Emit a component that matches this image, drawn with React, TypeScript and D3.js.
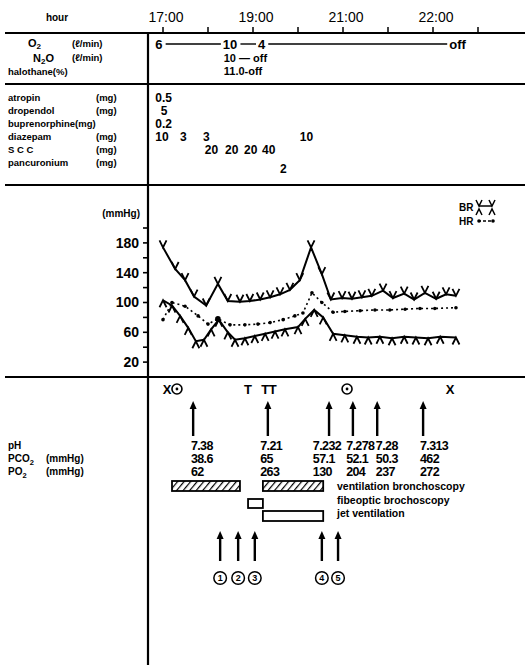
import React from 'react';
import * as d3 from 'd3';

const W = 525;
const H = 665;

// time axis, in tick units (one unit per tick mark)
const hourTicks = d3.range(0, 8);
const hourLabelTicks = [0, 2, 4, 6];
const hourLabels = ['17:00', '19:00', '21:00', '22:00'];

// gases
const o2Times = [-0.17, 1.33, 2.11, 6.36];
const o2Values = ['6', '10', '4', 'off'];
const n2oTimes = [1.35];
const n2oValues = ['10 — off'];
const halothaneTimes = [1.35];
const halothaneValues = ['11.0-off'];

// drugs (mg)
const drugNames = ['atropin', 'dropendol', 'buprenorphine(mg)', 'diazepam', 'S C C', 'pancuronium'];
const drugUnits = ['(mg)', '(mg)', '', '(mg)', '(mg)', '(mg)'];
const drugTimes = [[-0.17], [-0.05], [-0.17], [-0.17, 0.38, 0.89, 3.04], [0.93, 1.38, 1.8, 2.2], [2.6]];
const drugDoses = [['0.5'], ['5'], ['0.2'], ['10', '3', '3', '10'], ['20', '20', '20', '40'], ['2']];

// blood pressure / heart rate (mmHg)
const sbpTimes = [0, 0.27, 0.49, 0.69, 0.96, 1.22, 1.44, 1.71, 1.93, 2.16, 2.38, 2.6, 2.82, 3.04, 3.29, 3.53, 3.73, 3.98, 4.2, 4.42, 4.64, 4.89, 5.11, 5.36, 5.58, 5.82, 6.07, 6.29, 6.51];
const sbpValues = [174, 145, 130, 108, 96, 125, 102, 101, 102, 104, 107, 111, 117, 130, 174, 138, 104, 106, 105, 107, 109, 116, 106, 112, 104, 113, 105, 111, 109];
const hrTimes = [0, 0.2, 0.49, 0.78, 1.0, 1.22, 1.49, 1.82, 2.11, 2.38, 2.67, 2.93, 3.11, 3.31, 3.53, 3.78, 4.04, 4.38, 4.71, 5.04, 5.38, 5.71, 6.04, 6.51];
const hrValues = [77, 100, 95, 82, 71, 78, 70, 70, 71, 73, 77, 82, 86, 113, 100, 87, 88, 89, 90, 90, 91, 92, 92, 93];
const dbpTimes = [0, 0.2, 0.38, 0.56, 0.73, 0.91, 1.07, 1.24, 1.44, 1.6, 1.82, 2.04, 2.27, 2.49, 2.71, 3.0, 3.16, 3.36, 3.56, 3.78, 4.04, 4.31, 4.56, 4.82, 5.09, 5.36, 5.62, 5.89, 6.16, 6.51];
const dbpValues = [103, 96, 82, 66, 48, 50, 64, 77, 60, 50, 52, 55, 58, 61, 64, 67, 78, 90, 80, 58, 56, 54, 53, 54, 52, 54, 53, 52, 54, 53];
const bpTicks = d3.range(20, 201, 20);
const bpLabels = [20, 60, 100, 140, 180];

// blood gases
const xMarkTimes = [0.09, 6.38];
const dotMarkTimes = [0.31, 4.09];
const tMarkTimes = [1.89, 2.27, 2.44];
const gasArrowTimes = [0.67, 2.33, 3.69, 4.22, 4.76, 5.78];
const gasLabelTimes = [0.62, 2.16, 3.33, 4.07, 4.73, 5.71];
const phValues = ['7.38', '7.21', '7.232', '7.278', '7.28', '7.313'];
const pco2Values = ['38.6', '65', '57.1', '52.1', '50.3', '462'];
const po2Values = ['62', '263', '130', '204', '237', '272'];

// procedures
const ventBronchoRanges = [[0.2, 1.71], [2.22, 3.56]];
const fiberBronchoRanges = [[1.89, 2.22]];
const jetVentRanges = [[2.22, 3.56]];
const procedureNames = ['ventilation bronchoscopy', 'fibeoptic brochoscopy', 'jet ventilation'];
const eventTimes = [1.27, 1.67, 2.04, 3.53, 3.89];
const eventNumbers = ['1', '2', '3', '4', '5'];

const FONT = "'Liberation Sans', Arial, sans-serif";

const x = d3.scaleLinear().domain([0, 7]).range([163, 478]);
const y = d3.scaleLinear().domain([0, 200]).range([377, 228]);

const DIVX = 148;

const UpArrow = ({ cx, y1, y2 }: { cx: number; y1: number; y2: number }) => (
  <g>
    <line x1={cx} x2={cx} y1={y2} y2={y1 + 6} stroke="#000" strokeWidth={2.4} />
    <path d={`M${cx - 3.5},${y1 + 8} L${cx},${y1} L${cx + 3.5},${y1 + 8} Z`} fill="#000" />
  </g>
);

export default function App() {
  const line = d3.line<[number, number]>().x(d => x(d[0])).y(d => y(d[1]));
  const sbp = sbpTimes.map((t, i) => [t, sbpValues[i]] as [number, number]);
  const dbp = dbpTimes.map((t, i) => [t, dbpValues[i]] as [number, number]);
  const hr = hrTimes.map((t, i) => [t, hrValues[i]] as [number, number]);

  const o2Widths = o2Values.map(v => v.length * 7.3);
  const drugRowY = (i: number) => 101 + i * 12.9;

  const gasRow = (vals: string[], yy: number) =>
    vals.map((v, i) => (
      <text key={i} x={x(gasLabelTimes[i])} y={yy} fontSize={12.5} fontWeight="bold" letterSpacing={-0.6}>{v}</text>
    ));

  return (
    <div style={{ position: 'absolute', left: 0, top: 0, background: '#fff' }}>
      <svg width={W} height={H} fontFamily={FONT} style={{ display: 'block' }}>
        <defs>
          <pattern id="hatch" patternUnits="userSpaceOnUse" width={5} height={5} patternTransform="rotate(40)">
            <line x1={0} y1={0} x2={0} y2={5} stroke="#000" strokeWidth={2.4} />
          </pattern>
        </defs>
        <rect width={W} height={H} fill="#fff" />

        {/* frame */}
        {[33, 84, 185, 377].map(yy => (
          <line key={yy} x1={5} x2={W} y1={yy} y2={yy} stroke="#000" strokeWidth={2} />
        ))}
        <line x1={DIVX} x2={DIVX} y1={33} y2={H} stroke="#000" strokeWidth={2.2} />

        {/* hour axis */}
        <text x={57} y={21} fontSize={10} fontWeight="bold" textAnchor="middle">hour</text>
        {hourTicks.map(t => (
          <line key={t} x1={x(t)} x2={x(t)} y1={33} y2={27} stroke="#000" strokeWidth={1.5} />
        ))}
        {hourLabelTicks.map((t, i) => (
          <text key={t} x={x(t) + 3} y={22} fontSize={14} textAnchor="middle">{hourLabels[i]}</text>
        ))}

        {/* gases */}
        <text x={28} y={47} fontSize={11} fontWeight="bold">O<tspan dy={2} fontSize={8}>2</tspan></text>
        <text x={72} y={47} fontSize={9.5} fontWeight="bold">(ℓ/min)</text>
        <text x={33} y={62} fontSize={11} fontWeight="bold">N<tspan dy={2} fontSize={8}>2</tspan><tspan dy={-2}>O</tspan></text>
        <text x={72} y={61} fontSize={9.5} fontWeight="bold">(ℓ/min)</text>
        <text x={8} y={75} fontSize={9.5} fontWeight="bold">halothane(%)</text>
        {o2Values.map((v, i) => (
          <text key={i} x={x(o2Times[i])} y={49} fontSize={13} fontWeight="bold">{v}</text>
        ))}
        {o2Times.slice(0, -1).map((t, i) => (
          <line key={i} x1={x(t) + o2Widths[i] + 3} x2={x(o2Times[i + 1]) - 2} y1={44} y2={44} stroke="#000" strokeWidth={1.4} />
        ))}
        {n2oValues.map((v, i) => (
          <text key={i} x={x(n2oTimes[i])} y={62} fontSize={11} fontWeight="bold">{v}</text>
        ))}
        {halothaneValues.map((v, i) => (
          <text key={i} x={x(halothaneTimes[i])} y={75} fontSize={11} fontWeight="bold">{v}</text>
        ))}

        {/* drugs */}
        {drugNames.map((name, i) => (
          <g key={name}>
            <text x={8} y={drugRowY(i)} fontSize={9.5} fontWeight="bold">{name}</text>
            <text x={96} y={drugRowY(i)} fontSize={9.5} fontWeight="bold">{drugUnits[i]}</text>
            {drugDoses[i].map((d, j) => (
              <text key={j} x={x(drugTimes[i][j])} y={drugRowY(i) + (i === 5 ? 7 : 1)} fontSize={12} fontWeight="bold">{d}</text>
            ))}
          </g>
        ))}

        {/* BP / HR chart */}
        <text x={140} y={217} fontSize={10} fontWeight="bold" textAnchor="end">(mmHg)</text>
        {bpTicks.map(v => (
          <line key={v} x1={DIVX - 5} x2={DIVX} y1={y(v)} y2={y(v)} stroke="#000" strokeWidth={1.6} />
        ))}
        {bpLabels.map(v => (
          <text key={v} x={139} y={y(v)} dy="0.35em" fontSize={14} fontWeight="bold" textAnchor="end">{v}</text>
        ))}

        <path d={line(sbp) || ''} fill="none" stroke="#000" strokeWidth={2} />
        {sbp.map((d, i) => (
          <path key={i} d={`M${x(d[0]) - 3.5},${y(d[1]) - 7} L${x(d[0])},${y(d[1])} L${x(d[0]) + 3.5},${y(d[1]) - 7}`} fill="none" stroke="#000" strokeWidth={1.8} />
        ))}
        <path d={line(dbp) || ''} fill="none" stroke="#000" strokeWidth={2} />
        {dbp.map((d, i) => (
          <path key={i} d={`M${x(d[0]) - 3.5},${y(d[1]) + 7} L${x(d[0])},${y(d[1])} L${x(d[0]) + 3.5},${y(d[1]) + 7}`} fill="none" stroke="#000" strokeWidth={1.8} />
        ))}
        <path d={line(hr) || ''} fill="none" stroke="#000" strokeWidth={1.6} strokeDasharray="2,3" />
        {hr.map((d, i) => (
          <circle key={i} cx={x(d[0])} cy={y(d[1])} r={i === 5 ? 2.8 : 1.8} fill="#000" />
        ))}

        {/* legend */}
        <text x={459} y={211} fontSize={10} fontWeight="bold">BR</text>
        <line x1={479} x2={492} y1={206} y2={206} stroke="#000" strokeWidth={1.5} />
        {[479, 492].map(cx => (
          <g key={cx}>
            <path d={`M${cx - 3},${200} L${cx},${206} L${cx + 3},${200}`} fill="none" stroke="#000" strokeWidth={1.5} />
            <path d={`M${cx - 3},${215} L${cx},${209} L${cx + 3},${215}`} fill="none" stroke="#000" strokeWidth={1.5} />
          </g>
        ))}
        <text x={459} y={225} fontSize={10} fontWeight="bold">HR</text>
        <line x1={478} x2={493} y1={221} y2={221} stroke="#000" strokeWidth={1.4} strokeDasharray="3,2" />
        {[479, 493].map(cx => <circle key={cx} cx={cx} cy={221} r={1.8} fill="#000" />)}

        {/* blood gas events */}
        {xMarkTimes.map(t => (
          <text key={t} x={x(t)} y={394} fontSize={13} fontWeight="bold" textAnchor="middle">X</text>
        ))}
        {dotMarkTimes.map(t => (
          <g key={t}>
            <circle cx={x(t)} cy={389} r={5} fill="none" stroke="#000" strokeWidth={1.6} />
            <circle cx={x(t)} cy={389} r={1.4} fill="#000" />
          </g>
        ))}
        {tMarkTimes.map(t => (
          <text key={t} x={x(t)} y={394} fontSize={13} fontWeight="bold" textAnchor="middle">T</text>
        ))}
        {gasArrowTimes.map(t => (
          <UpArrow key={t} cx={x(t)} y1={401} y2={436} />
        ))}

        <text x={8} y={449} fontSize={10} fontWeight="bold">pH</text>
        <text x={8} y={462} fontSize={10} fontWeight="bold">PCO<tspan dy={3} fontSize={7.5}>2</tspan></text>
        <text x={46} y={462} fontSize={10} fontWeight="bold">(mmHg)</text>
        <text x={8} y={475} fontSize={10} fontWeight="bold">PO<tspan dy={3} fontSize={7.5}>2</tspan></text>
        <text x={46} y={475} fontSize={10} fontWeight="bold">(mmHg)</text>
        {gasRow(phValues, 450)}
        {gasRow(pco2Values, 463)}
        {gasRow(po2Values, 476)}

        {/* procedures */}
        {ventBronchoRanges.map(([a, b], i) => (
          <rect key={i} x={x(a)} y={481} width={x(b) - x(a)} height={10} fill="url(#hatch)" stroke="#000" strokeWidth={1.8} />
        ))}
        {fiberBronchoRanges.map(([a, b], i) => (
          <rect key={i} x={x(a)} y={499} width={x(b) - x(a)} height={9} fill="#fff" stroke="#000" strokeWidth={1.8} />
        ))}
        {jetVentRanges.map(([a, b], i) => (
          <rect key={i} x={x(a)} y={511} width={x(b) - x(a)} height={10} fill="#fff" stroke="#000" strokeWidth={1.8} />
        ))}
        {procedureNames.map((n, i) => (
          <text key={n} x={337} y={490 + i * 13.5} fontSize={10.5} fontWeight="bold">{n}</text>
        ))}

        {eventTimes.map((t, i) => (
          <g key={t}>
            <UpArrow cx={x(t)} y1={531} y2={561} />
            <circle cx={x(t)} cy={578} r={6.3} fill="#fff" stroke="#000" strokeWidth={1.5} />
            <text x={x(t)} y={578} dy="0.35em" fontSize={9} fontWeight="bold" textAnchor="middle">{eventNumbers[i]}</text>
          </g>
        ))}
      </svg>
    </div>
  );
}
